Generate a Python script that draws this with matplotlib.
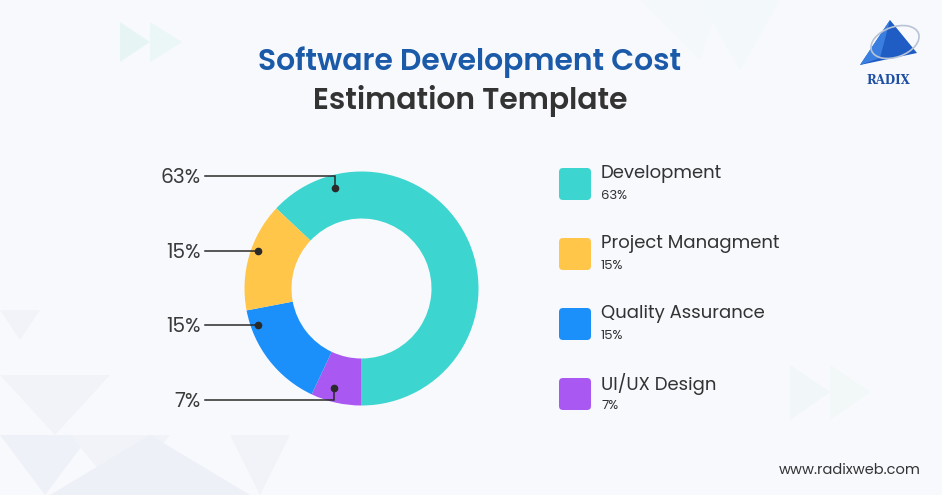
import matplotlib.pyplot as plt
from matplotlib.patches import Polygon, FancyBboxPatch, Ellipse
import numpy as np

plt.rcParams['font.family'] = ['Poppins', 'Lato', 'DejaVu Sans']

# data
categories = ['Development', 'Project Managment', 'Quality Assurance', 'UI/UX Design']
shares = [63, 15, 15, 7]
colors = ['#3dd5cf', '#ffc64a', '#1c90fa', '#a958f1']

# pie draws clockwise: Development, UI/UX, Quality, Project
pie_order = [0, 3, 2, 1]

W, H = 942, 495
fig = plt.figure(figsize=(W / 100, H / 100), dpi=100)
fig.patch.set_facecolor('#f8f9fd')
ax = fig.add_axes([0, 0, 1, 1])
ax.set_xlim(0, W)
ax.set_ylim(0, H)
ax.set_aspect('equal')
ax.axis('off')

def Y(y):
    return H - y

# faint background shapes
bg = [
    ([(120, 22), (120, 62), (150, 42)], '#e6f5f4'),
    ([(150, 22), (150, 62), (182, 42)], '#ebf7f6'),
    ([(790, 365), (790, 420), (830, 392)], '#f1f6f8'),
    ([(830, 365), (830, 420), (870, 392)], '#f2f7f8'),
    ([(0, 310), (40, 310), (20, 340)], '#f1f3f9'),
    ([(0, 375), (110, 375), (55, 435)], '#f1f3f9'),
    ([(0, 435), (90, 435), (45, 495)], '#eff1f8'),
    ([(70, 435), (170, 435), (120, 495)], '#f1f3f9'),
    ([(150, 435), (250, 495), (50, 495)], '#edf0f7'),
    ([(230, 435), (290, 435), (260, 495)], '#f1f3f9'),
    ([(640, 0), (720, 0), (700, 60)], '#f4f8fb'),
    ([(700, 0), (780, 0), (740, 70)], '#f3f8fb'),
]
for pts, c in bg:
    ax.add_patch(Polygon([(x, Y(y)) for x, y in pts], closed=True,
                         facecolor=c, edgecolor='none', zorder=0))

# donut
cx, cy, r = 361.5, Y(288.5), 117
ax.pie([shares[i] for i in pie_order], colors=[colors[i] for i in pie_order],
       startangle=136.8, counterclock=False, center=(cx, cy), radius=r,
       wedgeprops=dict(width=47, edgecolor='none'), frame=True)
ax.set_xlim(0, W)
ax.set_ylim(0, H)
ax.axis('off')

# leader lines: (label, dot angle deg, dot radius, label y)
leaders = [
    ('63%', 105, 104, 176),
    ('15%', 160, 110, 251),
    ('15%', 199.4, 110, 325),
    ('7%', 254.5, 103, 400),
]
for lab, ang, rr, ly in leaders:
    dx = cx + rr * np.cos(np.radians(ang))
    dy = cy + rr * np.sin(np.radians(ang))
    ax.plot([205, dx, dx], [Y(ly), Y(ly), dy], color='#2a2a2a', lw=1.1,
            solid_joinstyle='miter', zorder=5)
    ax.plot(dx, dy, 'o', color='#2a2a2a', ms=4.5, zorder=6)
    ax.text(201, Y(ly + 2), lab, ha='right', va='center', fontsize=14.5,
            color='#3a3a3a', zorder=6)

# legend
for i, (name, v) in enumerate(zip(categories, shares)):
    top = 168 + i * 70
    ax.add_patch(FancyBboxPatch((559 + 4, Y(top + 32) + 4), 24, 24,
                                boxstyle='round,pad=4', facecolor=colors[i],
                                edgecolor='none', zorder=3))
    ax.text(601, Y(top + 6), name, ha='left', va='center', fontsize=13,
            color='#333333')
    ax.text(601, Y(top + 28), f'{v}%', ha='left', va='center', fontsize=9.5,
            color='#333333')

# title
ax.text(470, Y(62), 'Software Development Cost', ha='center', va='center',
        fontsize=21.5, fontweight='semibold', color='#1a5aa8')
ax.text(470, Y(101), 'Estimation Template', ha='center', va='center',
        fontsize=21.5, fontweight='semibold', color='#333333')

# logo
ax.add_patch(Polygon([(890, Y(20)), (860, Y(65)), (917, Y(53))], closed=True,
                     facecolor='#1f5cc4', edgecolor='none', zorder=3))
ax.add_patch(Polygon([(890, Y(20)), (860, Y(65)), (880, Y(58))], closed=True,
                     facecolor='#3a7fe0', edgecolor='none', zorder=3))
ax.add_patch(Ellipse((895, Y(42)), 50, 30, angle=20, fill=False,
                     edgecolor='#b8c4d6', lw=1.2, zorder=4))
ax.text(888, Y(80), 'RADIX', ha='center', va='center', fontsize=8.5,
        fontweight='bold', family=['DejaVu Serif'], color='#1e4fa3')

ax.text(921, Y(470), 'www.radixweb.com', ha='right', va='center',
        fontsize=10.5, color='#333333')

fig.savefig('out.png', dpi=100, facecolor=fig.get_facecolor())
